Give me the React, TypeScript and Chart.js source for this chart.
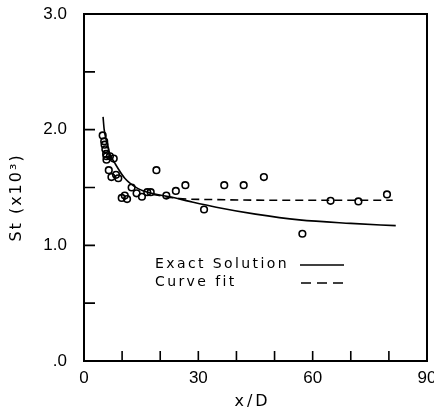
import React, { useEffect, useRef } from "react";
import { Chart, registerables } from "chart.js";

Chart.register(...registerables);

// Measured Stanton numbers (x/D, St x10^3)
const measuredX = [4.9, 5.3, 5.4, 5.6, 5.8, 5.9, 6.8, 7.8, 5.9, 6.5, 7.2, 8.4, 9.0, 9.9, 10.7, 11.3, 12.5, 13.8, 15.2, 16.6, 17.5, 19.0, 21.6, 24.1, 26.6, 31.5, 36.8, 41.9, 47.2, 57.3, 64.7, 72.0, 79.5];
const measuredY = [1.95, 1.90, 1.87, 1.83, 1.79, 1.77, 1.77, 1.75, 1.74, 1.65, 1.59, 1.61, 1.58, 1.41, 1.43, 1.40, 1.50, 1.45, 1.42, 1.46, 1.46, 1.65, 1.43, 1.47, 1.52, 1.31, 1.52, 1.52, 1.59, 1.10, 1.385, 1.38, 1.44];

// Exact solution curve
const exactX = [5.0, 5.3, 5.9, 6.8, 8.1, 10.7, 14.2, 17.7, 22.5, 27.7, 34.7, 45, 56.5, 70, 81.8];
const exactY = [2.11, 2.0, 1.9, 1.79, 1.71, 1.58, 1.49, 1.45, 1.42, 1.38, 1.33, 1.27, 1.22, 1.19, 1.17];

// Curve fit (dashed)
const fitX = [18, 25, 35, 50, 65, 81];
const fitY = [1.44, 1.405, 1.395, 1.39, 1.39, 1.39];

const xLabelValues = [0, 30, 60, 90];
const xLabelTexts = ["0", "30", "60", "90"];
const yLabelValues = [0, 1, 2, 3];
const yLabelTexts = [".0", "1.0", "2.0", "3.0"];
const xMinorTicks = [10, 20, 30, 40, 50, 60, 70, 80];
const yMinorTicks = [0.5, 1, 1.5, 2, 2.5];

const xTitle = "x/D";
const yTitle = "St (x10\u00B3)";
const legendLabels = ["Exact Solution", "Curve fit"];

const decorPlugin = {
  id: "decor",
  afterDraw(chart: any) {
    const { ctx, chartArea, scales } = chart;
    const xs = scales.x;
    const ys = scales.y;
    ctx.save();
    ctx.strokeStyle = "#000";
    ctx.lineWidth = 2;
    ctx.strokeRect(chartArea.left, chartArea.top, chartArea.right - chartArea.left, chartArea.bottom - chartArea.top);
    ctx.lineWidth = 1.6;
    ctx.beginPath();
    for (const v of xMinorTicks) {
      const px = xs.getPixelForValue(v);
      ctx.moveTo(px, chartArea.bottom);
      ctx.lineTo(px, chartArea.bottom - 10);
    }
    for (const v of yMinorTicks) {
      const py = ys.getPixelForValue(v);
      ctx.moveTo(chartArea.left, py);
      ctx.lineTo(chartArea.left + 11, py);
    }
    ctx.stroke();

    ctx.fillStyle = "#000";
    ctx.textBaseline = "middle";
    ctx.textAlign = "center";
    // x title
    ctx.font = "16px 'DejaVu Sans'";
    (ctx as any).letterSpacing = "3px";
    ctx.fillText(xTitle, (chartArea.left + chartArea.right) / 2 - 3, 402);
    // y title
    ctx.save();
    ctx.translate(17, (chartArea.top + chartArea.bottom) / 2 + 10);
    ctx.rotate(-Math.PI / 2);
    (ctx as any).letterSpacing = "2px";
    ctx.fillText(yTitle, 0, 0);
    ctx.restore();

    // legend
    ctx.font = "14px 'DejaVu Sans'";
    (ctx as any).letterSpacing = "2.4px";
    ctx.textAlign = "left";
    const lx = 155;
    const ly = [264, 282];
    ctx.fillText(legendLabels[0], lx, ly[0]);
    ctx.fillText(legendLabels[1], lx, ly[1]);
    ctx.lineWidth = 1.6;
    ctx.beginPath();
    ctx.moveTo(300, ly[0] + 1);
    ctx.lineTo(344, ly[0] + 1);
    ctx.stroke();
    ctx.setLineDash([10, 6]);
    ctx.beginPath();
    ctx.moveTo(301, ly[1] + 1);
    ctx.lineTo(346, ly[1] + 1);
    ctx.stroke();
    ctx.restore();
  },
};

export default function App() {
  const ref = useRef<HTMLCanvasElement | null>(null);
  useEffect(() => {
    if (!ref.current) return;
    const chart = new Chart(ref.current, {
      type: "scatter",
      data: {
        datasets: [
          {
            label: "Measured",
            data: measuredX.map((x, i) => ({ x, y: measuredY[i] })),
            showLine: false,
            pointStyle: "circle",
            pointRadius: 3.3,
            pointBorderWidth: 1.6,
            borderColor: "#000",
            backgroundColor: "rgba(0,0,0,0)",
            order: 0,
          },
          {
            label: legendLabels[0],
            data: exactX.map((x, i) => ({ x, y: exactY[i] })),
            showLine: true,
            pointRadius: 0,
            borderColor: "#000",
            borderWidth: 1.6,
            cubicInterpolationMode: "monotone",
            order: 1,
          },
          {
            label: legendLabels[1],
            data: fitX.map((x, i) => ({ x, y: fitY[i] })),
            showLine: true,
            pointRadius: 0,
            borderColor: "#000",
            borderWidth: 1.6,
            borderDash: [8, 5],
            cubicInterpolationMode: "monotone",
            order: 2,
          },
        ],
      },
      options: {
        responsive: false,
        animation: false,
        layout: { padding: { top: 14, right: 7, left: 0, bottom: 0 } },
        plugins: { legend: { display: false }, tooltip: { enabled: false } },
        scales: {
          x: {
            type: "linear",
            min: 0,
            max: 90,
            afterFit: (s: any) => { s.height = 52; s.paddingLeft = 0; s.paddingRight = 0; },
            afterBuildTicks: (s: any) => { s.ticks = xLabelValues.map((v) => ({ value: v })); },
            grid: { display: false, drawTicks: false },
            border: { display: false },
            ticks: {
              padding: 7,
              color: "#000",
              font: { family: "'Liberation Sans'", size: 17 },
              callback: (v: any) => {
                const i = xLabelValues.indexOf(Number(v));
                return i >= 0 ? xLabelTexts[i] : "";
              },
            },
          },
          y: {
            type: "linear",
            min: 0,
            max: 3,
            afterFit: (s: any) => { s.width = 84; s.paddingTop = 0; s.paddingBottom = 0; },
            afterBuildTicks: (s: any) => { s.ticks = yLabelValues.map((v) => ({ value: v })); },
            grid: { display: false, drawTicks: false },
            border: { display: false },
            ticks: {
              padding: 17,
              color: "#000",
              font: { family: "'Liberation Sans'", size: 17 },
              callback: (v: any) => {
                const i = yLabelValues.indexOf(Number(v));
                return i >= 0 ? yLabelTexts[i] : "";
              },
            },
          },
        },
      },
      plugins: [decorPlugin],
    });
    return () => chart.destroy();
  }, []);
  return (
    <canvas
      ref={ref}
      width={434}
      height={413}
      style={{ position: "fixed", left: 0, top: 0, width: 434, height: 413, background: "#fff" }}
    />
  );
}
